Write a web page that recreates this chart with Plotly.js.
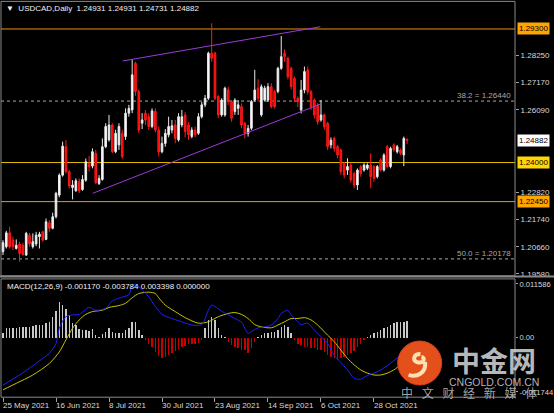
<!DOCTYPE html>
<html><head><meta charset="utf-8">
<script src="https://cdn.plot.ly/plotly-3.0.1.min.js"></script>
<style>html,body{margin:0;padding:0;background:#000;}#chart{width:554px;height:413px;}</style>
</head><body><div id="chart"></div>
<script>
// ---- data ----
const barIdx = Array.from({length:123},(_,i)=>i);
const openP = [1.2046,1.2066,1.2121,1.2092,1.2059,1.2077,1.2072,1.2033,1.2112,1.2066,1.2077,1.2106,1.2125,1.2095,1.2161,1.2139,1.2185,1.2271,1.2350,1.2463,1.2364,1.2301,1.2288,1.2324,1.2293,1.2330,1.2397,1.2386,1.2436,1.2317,
1.2333,1.2463,1.2490,1.2549,1.2443,1.2470,1.2516,1.2503,1.2596,1.2609,1.2794,1.2682,1.2556,1.2596,1.2582,1.2543,1.2603,1.2529,1.2443,1.2476,1.2510,1.2529,1.2549,1.2490,1.2549,1.2589,1.2549,1.2503,1.2529,1.2516,1.2582,1.2629,1.2655,
1.2834,1.2834,1.2662,1.2589,1.2589,1.2688,1.2642,1.2602,1.2615,1.2622,1.2556,1.2516,1.2536,1.2648,1.2695,1.2589,1.2648,1.2648,1.2701,1.2682,1.2682,1.2774,1.2834,1.2814,1.2774,1.2734,1.2655,
1.2609,1.2688,1.2767,1.2681,1.2648,1.2628,1.2569,1.2589,1.2556,1.2470,1.2496,1.2463,1.2450,1.2397,1.2370,1.2390,1.2357,1.2311,1.2384,1.2370,1.2377,1.2390,1.2384,1.2344,1.2410,1.2370,1.2463,1.2384,1.2470,1.2443,1.2450,1.2430,1.24931];
const highP = [1.2092,1.2129,1.2145,1.2106,1.2095,1.2086,1.2082,1.2125,1.2121,1.2119,1.2125,1.2125,1.2129,1.2178,1.2172,1.2201,1.2284,1.2357,1.2483,1.2489,1.2370,1.2330,1.2337,1.2337,1.2350,1.2416,1.2426,1.2456,1.2450,1.2350,
1.2496,1.2556,1.2589,1.2556,1.2530,1.2556,1.2530,1.2615,1.2629,1.2810,1.2800,1.2690,1.2596,1.2609,1.2596,1.2615,1.2615,1.2543,1.2503,1.2533,1.2582,1.2569,1.2569,1.2596,1.2609,1.2600,1.2560,1.2540,1.2543,1.2596,1.2640,1.2668,1.2840,
1.2953,1.2840,1.2668,1.2655,1.2701,1.2701,1.2648,1.2655,1.2648,1.2635,1.2562,1.2549,1.2648,1.2768,1.2730,1.2710,1.2705,1.2715,1.2715,1.2688,1.2780,1.2902,1.2850,1.2820,1.2780,1.2741,1.2662,
1.2728,1.2781,1.2781,1.2688,1.2655,1.2635,1.2648,1.2595,1.2562,1.2500,1.2503,1.2470,1.2456,1.2403,1.2417,1.2397,1.2364,1.2377,1.2390,1.2397,1.2397,1.2437,1.2390,1.2390,1.2417,1.2437,1.2470,1.2463,1.2476,1.2470,1.2456,1.2503,1.24931];
const lowP = [1.2033,1.2059,1.2059,1.2053,1.2055,1.2006,1.2030,1.2029,1.2066,1.2059,1.2068,1.2059,1.2086,1.2092,1.2125,1.2135,1.2178,1.2262,1.2344,1.2357,1.2297,1.2254,1.2284,1.2278,1.2288,1.2324,1.2364,1.2377,1.2315,1.2311,
1.2328,1.2457,1.2483,1.2437,1.2437,1.2450,1.2415,1.2490,1.2582,1.2596,1.2665,1.2516,1.2533,1.2549,1.2529,1.2536,1.2520,1.2424,1.2437,1.2463,1.2500,1.2516,1.2476,1.2483,1.2540,1.2500,1.2490,1.2496,1.2500,1.2510,1.2575,1.2620,1.2648,
1.2800,1.2648,1.2576,1.2582,1.2582,1.2629,1.2562,1.2589,1.2589,1.2536,1.2496,1.2503,1.2529,1.2642,1.2642,1.2582,1.2642,1.2640,1.2615,1.2615,1.2675,1.2768,1.2800,1.2730,1.2690,1.2640,1.2620,
1.2595,1.2675,1.2670,1.2609,1.2575,1.2550,1.2562,1.2530,1.2450,1.2456,1.2443,1.2417,1.2351,1.2337,1.2351,1.2320,1.2298,1.2291,1.2344,1.2364,1.2370,1.2298,1.2324,1.2337,1.2364,1.2364,1.2377,1.2377,1.2443,1.2436,1.2430,1.2386,1.24731];
const closeP = [1.2082,1.2121,1.2066,1.2066,1.2072,1.2039,1.2035,1.2119,1.2077,1.2086,1.2112,1.2116,1.2092,1.2165,1.2139,1.2185,1.2278,1.2350,1.2465,1.2364,1.2307,1.2311,1.2328,1.2288,1.2333,1.2403,1.2383,1.2443,1.2320,1.2337,
1.2463,1.2543,1.2549,1.2443,1.2516,1.2543,1.2424,1.2596,1.2615,1.2748,1.2682,1.2529,1.2569,1.2569,1.2543,1.2605,1.2529,1.2443,1.2476,1.2516,1.2543,1.2546,1.2496,1.2582,1.2582,1.2523,1.2510,1.2529,1.2510,1.2582,1.2629,1.2655,1.2834,
1.2814,1.2655,1.2589,1.2648,1.2695,1.2642,1.2576,1.2648,1.2629,1.2549,1.2516,1.2536,1.2642,1.2688,1.2655,1.2701,1.2695,1.2701,1.2622,1.2622,1.2774,1.2820,1.2820,1.2741,1.2701,1.2655,1.2642,
1.2688,1.2761,1.2681,1.2622,1.2589,1.2562,1.2589,1.2542,1.2463,1.2489,1.2456,1.2430,1.2364,1.2351,1.2384,1.2331,1.2311,1.2370,1.2357,1.2390,1.2390,1.2344,1.2337,1.2384,1.2370,1.2430,1.2384,1.2456,1.2450,1.2463,1.2437,1.2496,1.24882];

const macdHist = [0.0009,0.0020,0.0020,0.0021,0.0021,0.0022,0.0023,0.0023,0.0023,0.0025,0.0026,0.0027,0.0028,0.0031,0.0034,0.0045,0.0057,0.0076,0.0070,0.0062,
0.0049,0.0031,0.0027,0.0018,0.0016,0.0016,0.0014,0.0018,0.0005,0.0002,0.0007,0.0013,0.0021,0.0013,0.0009,0.0009,0.0009,0.0016,0.0020,0.0034,
0.0034,0.0016,0.0005,-0.0005,-0.0013,-0.0020,-0.0031,-0.0040,-0.0045,-0.0042,-0.0038,-0.0034,-0.0029,-0.0025,-0.0021,-0.0018,-0.0015,-0.0013,-0.0013,-0.0011,
-0.0005,0.0020,0.0038,0.0045,0.0038,0.0020,0.0005,0.0002,-0.0009,-0.0016,-0.0020,-0.0023,-0.0027,-0.0028,-0.0034,-0.0023,-0.0009,0.0002,0.0005,0.0009,
0.0009,0.0011,0.0013,0.0016,0.0023,0.0027,0.0023,0.0009,-0.0005,-0.0013,-0.0016,-0.0020,-0.0020,-0.0023,-0.0023,-0.0027,-0.0028,-0.0031,-0.0038,-0.0041,
-0.0045,-0.0049,-0.0045,-0.0041,-0.0038,-0.0034,-0.0029,-0.0020,-0.0013,-0.0005,0.0002,0.0005,0.0009,0.0013,0.0016,0.0020,0.0023,0.0027,0.0031,0.0034,
0.0034,0.0034,0.0036];
const macdIdx  = [0,2,5,9,12,14,16,17,19,21,23,26,28,31,33,35,38,39,40,42,44,46,48,51,54,57,60,62,63,64,66,68,70,72,74,75,77,79,81,83,84,86,87,89,90,92,94,96,98,100,102,104,106,108,110,113,116,119,122];
const macdLine = [-0.0103,-0.0094,-0.0081,-0.0061,-0.0045,-0.0034,-0.0013,0.0020,0.0045,0.0049,0.0050,0.0065,0.0059,0.0063,0.0079,0.0085,0.0093,0.0112,0.0115,0.0103,0.0088,0.0067,0.0050,0.0041,0.0034,0.0027,0.0028,0.0059,0.0070,0.0067,0.0057,0.0049,0.0041,0.0033,0.0009,0.0013,0.0021,0.0023,0.0027,0.0041,0.0052,0.0059,0.0049,0.0034,0.0028,0.0031,0.0016,0.0002,-0.0013,-0.0038,-0.0054,-0.0070,-0.0088,-0.0090,-0.0082,-0.0074,-0.0061,-0.0044,-0.0029];
const sigIdx  = [0,4,9,14,17,19,21,23,25,27,30,32,35,37,39,41,44,46,47,49,52,55,59,62,65,68,70,72,74,76,78,81,83,85,87,89,91,93,95,98,100,102,104,106,108,110,112,114,116,118,120,122];
const sigLine = [-0.0113,-0.0099,-0.0081,-0.0056,-0.0031,-0.0005,0.0020,0.0038,0.0050,0.0056,0.0059,0.0065,0.0069,0.0074,0.0086,0.0095,0.0098,0.0095,0.0086,0.0070,0.0056,0.0043,0.0031,0.0034,0.0045,0.0052,0.0054,0.0050,0.0041,0.0028,0.0023,0.0021,0.0027,0.0034,0.0041,0.0041,0.0043,0.0038,0.0027,0.0005,-0.0009,-0.0027,-0.0045,-0.0059,-0.0070,-0.0077,-0.0081,-0.0081,-0.0077,-0.0070,-0.0059,-0.0049];

const xTickIdx  = [0,16,32,48,64,80,96,112];
const xTickText = ['25 May 2021','16 Jun 2021','8 Jul 2021','30 Jul 2021','23 Aug 2021','14 Sep 2021','6 Oct 2021','28 Oct 2021'];
const priceTicks = [1.28250,1.27170,1.26090,1.22820,1.21740,1.20660,1.19580];
const priceTickText = ['1.28250','1.27170','1.26090','1.22820','1.21740','1.20660','1.19580'];
const macdTicks = [0.011586,0,-0.011744];
const macdTickText = ['0.011586','0.00','-0.011744'];

const levelPrices = [1.29300,1.24000,1.22450];
const levelText   = ['1.29300','1.24000','1.22450'];
const fibPrices = [1.26440,1.20178];
const fibText   = ['38.2 = 1.26440','50.0 = 1.20178'];
const lastPrice = 1.24882;
const trendUpperX = [36.1,95.8], trendUpperY = [1.2803,1.2939];
const trendLowerX = [27.1,95.8], trendLowerY = [1.2278,1.2632];

// ---- styles ----
const FONT = 'Liberation Sans, Arial, sans-serif';
const levelLine = ['#E8920C','#E2C000','#DDA020'];
const levelBox  = ['#FFA500','#FFD700','#FFA500'];

const traces = [
  {type:'candlestick', x:barIdx, open:openP, high:highP, low:lowP, close:closeP, xaxis:'x', yaxis:'y',
   increasing:{line:{color:'#E8E8E8',width:1}, fillcolor:'#FFFFFF'},
   decreasing:{line:{color:'#FF1A1A',width:1}, fillcolor:'#FF0000'},
   whiskerwidth:0, hoverinfo:'none'},
  {type:'scatter', mode:'lines', x:trendUpperX, y:trendUpperY, xaxis:'x', yaxis:'y', line:{color:'#9B3BD8',width:1}, hoverinfo:'none'},
  {type:'scatter', mode:'lines', x:trendLowerX, y:trendLowerY, xaxis:'x', yaxis:'y', line:{color:'#9B3BD8',width:1}, hoverinfo:'none'},
  {type:'bar', x:barIdx, y:macdHist, xaxis:'x', yaxis:'y2', width:0.42,
   marker:{color:macdHist.map(v=>v>=0?'#C8C8C8':'#C80000'), line:{width:0}}, hoverinfo:'none'},
  {type:'scatter', mode:'lines', x:sigIdx, y:sigLine, xaxis:'x', yaxis:'y2', line:{color:'#C8C400',width:1,shape:'spline',smoothing:0.8}, hoverinfo:'none'},
  {type:'scatter', mode:'lines', x:macdIdx, y:macdLine, xaxis:'x', yaxis:'y2', line:{color:'#2020FF',width:1,shape:'spline',smoothing:0.8}, hoverinfo:'none'}
];

const shapes = [];
levelPrices.forEach((p,k)=>shapes.push({type:'line', xref:'paper', yref:'y', x0:0, x1:1, y0:p, y1:p, line:{color:levelLine[k],width:1}, layer:'below'}));
fibPrices.forEach(p=>shapes.push({type:'line', xref:'paper', yref:'y', x0:0, x1:1, y0:p, y1:p, line:{color:'#A8A8A8',width:1,dash:'3px,3px'}, layer:'below'}));
// panel frames
shapes.push({type:'rect', xref:'paper', yref:'paper', x0:0, x1:1, y0:0.3050, y1:0.9965, line:{color:'#8A8A8A',width:1}, fillcolor:'rgba(0,0,0,0)'});
shapes.push({type:'line', xref:'paper', yref:'paper', x0:-0.01, x1:1.1, y0:0.3035, y1:0.3035, line:{color:'#8A8A8A',width:2}});
shapes.push({type:'rect', xref:'paper', yref:'paper', x0:0, x1:1, y0:-0.0005, y1:0.2975, line:{color:'#8A8A8A',width:1}, fillcolor:'rgba(0,0,0,0)'});
// watermark logo
shapes.push({type:'circle', xref:'paper', yref:'paper', x0:0.7718, x1:0.8574, y0:0.0302, y1:0.1410, fillcolor:'#E4501C', line:{color:'#D8401A',width:1}, layer:'above'});
shapes.push({type:'path', xref:'paper', yref:'paper', layer:'above',
  path:'M 0.8160 0.1080 C 0.8020 0.1080 0.7990 0.0900 0.8120 0.0870 C 0.8230 0.0850 0.8260 0.0990 0.8180 0.1010 M 0.8250 0.0880 C 0.8280 0.0600 0.8080 0.0480 0.7930 0.0560',
  line:{color:'#FCE2B0',width:4}});

const annotations = [
  {xref:'paper', yref:'paper', x:0, y:1, xanchor:'left', yanchor:'top', xshift:3, yshift:-2, showarrow:false,
   text:'▼  USDCAD,Daily  1.24931 1.24931 1.24731 1.24882', font:{family:FONT,size:8,color:'#F0F0F0'}},
  {xref:'paper', yref:'paper', x:0, y:0.2972, xanchor:'left', yanchor:'top', xshift:4, yshift:-1, showarrow:false,
   text:'MACD(12,26,9) -0.001170 -0.003784 0.003398 0.000000', font:{family:FONT,size:8,color:'#F0F0F0'}}
];
// date labels, left-aligned at their ticks (MT4 style)
xTickIdx.forEach((v,k)=>annotations.push({xref:'x', yref:'paper', x:v, y:0, xanchor:'left', yanchor:'top', xshift:-2, yshift:-2, showarrow:false,
  text:xTickText[k], font:{family:FONT,size:8,color:'#D8D8D8'}}));
levelPrices.forEach((p,k)=>annotations.push({xref:'paper', yref:'y', x:1, y:p, xanchor:'left', yanchor:'middle', xshift:2, showarrow:false,
  text:levelText[k], bgcolor:levelBox[k], borderpad:1, font:{family:FONT,size:8,color:'#000'}}));
annotations.push({xref:'paper', yref:'y', x:1, y:lastPrice, xanchor:'left', yanchor:'middle', xshift:2, showarrow:false,
  text:'1.24882', bgcolor:'#FFFFFF', borderpad:1, font:{family:FONT,size:8,color:'#000'}});
fibPrices.forEach((p,k)=>annotations.push({xref:'paper', yref:'y', x:1, y:p, xanchor:'right', yanchor:'bottom', xshift:-2, yshift:-1, showarrow:false,
  text:fibText[k], font:{family:FONT,size:8,color:'#A8A8A8'}}));
annotations.push({xref:'paper', yref:'paper', x:0.9588, y:0.0920, xanchor:'center', yanchor:'middle', showarrow:false,
  text:'<b>中金网</b>', font:{family:'Noto Sans CJK SC',size:28,color:'rgba(210,210,210,0.88)'}});
annotations.push({xref:'paper', yref:'paper', x:0.9588, y:0.0385, xanchor:'center', yanchor:'middle', showarrow:false,
  text:'CNGOLD.COM.CN', font:{family:FONT,size:10.5,color:'rgba(200,200,200,0.9)'}});
annotations.push({xref:'paper', yref:'paper', x:0.9100, y:0.0120, xanchor:'center', yanchor:'middle', showarrow:false,
  text:'中 \u2002文 \u2002财 \u2002经 \u2002新 \u2002媒 \u2002体', font:{family:'Noto Sans CJK SC',size:12,color:'rgba(185,185,185,0.9)'}});

const layout = {
  width:554, height:413, paper_bgcolor:'#000', plot_bgcolor:'#000',
  margin:{l:1, r:39, t:0, b:16}, showlegend:false, bargap:0,
  font:{family:FONT, size:8, color:'#D8D8D8'},
  xaxis:{range:[-0.604,154.57], anchor:'y2', tickmode:'array', tickvals:xTickIdx, showticklabels:false,
    ticks:'outside', ticklen:4, tickcolor:'#A0A0A0',
    showgrid:false, zeroline:false, showline:false, automargin:false, rangeslider:{visible:false}},
  yaxis:{domain:[0.3073,0.995], range:[1.19538,1.30372], side:'right', tickmode:'array', tickvals:priceTicks, ticktext:priceTickText,
    ticks:'outside', ticklen:3, tickcolor:'#A0A0A0', showgrid:false, zeroline:false, showline:false, automargin:false,
    tickfont:{family:FONT,size:8,color:'#D8D8D8'}},
  yaxis2:{domain:[0,0.2972], range:[-0.01285,0.01264], side:'right', anchor:'x', tickmode:'array', tickvals:macdTicks, ticktext:macdTickText,
    ticks:'outside', ticklen:2, tickcolor:'#A0A0A0', showgrid:false, zeroline:false, showline:false, automargin:false,
    tickfont:{family:FONT,size:7.6,color:'#D8D8D8'}},
  shapes:shapes, annotations:annotations
};
Plotly.newPlot('chart', traces, layout, {staticPlot:true, displayModeBar:false});
</script></body></html>
